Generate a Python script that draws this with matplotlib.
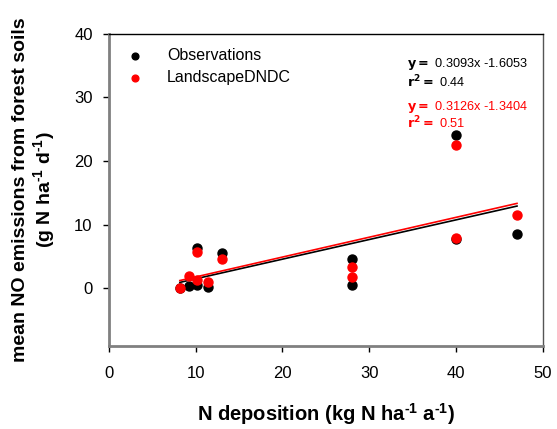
import matplotlib.pyplot as plt

plt.rcParams['font.family'] = ['Liberation Sans', 'DejaVu Sans']
plt.rcParams['mathtext.default'] = 'regular'

# N deposition (kg N ha-1 a-1)
x_obs = [8.2, 9.2, 10.2, 10.2, 11.4, 13.1, 28, 28, 40, 40, 47]
y_obs = [0.05, 0.4, 0.5, 6.3, 0.15, 5.55, 4.65, 0.6, 24.1, 7.7, 8.6]

x_mod = [8.2, 9.2, 10.2, 10.2, 11.4, 13.1, 28, 28, 40, 40, 47]
y_mod = [0.1, 1.9, 1.3, 5.7, 1.0, 4.65, 3.4, 1.8, 22.5, 7.9, 11.6]

# regression (from chart equations)
slope_obs, icpt_obs, r2_obs = 0.3093, -1.6053, 0.44
slope_mod, icpt_mod, r2_mod = 0.3126, -1.3404, 0.51
fit_x = [8.2, 47]

fig = plt.figure(figsize=(5.57, 4.29), dpi=100)
ax = fig.add_axes([0.195, 0.193, 0.780, 0.728])

ax.plot(fit_x, [slope_obs * v + icpt_obs for v in fit_x], color='black', lw=1.2, zorder=2)
ax.plot(fit_x, [slope_mod * v + icpt_mod for v in fit_x], color='red', lw=1.2, zorder=2)

ax.scatter(x_obs, y_obs, s=42, color='black', label='Observations', zorder=3)
ax.scatter(x_mod, y_mod, s=42, color='red', label='LandscapeDNDC', zorder=4)

ax.set_xlim(0, 50)
ax.set_ylim(-9.1, 40)
ax.set_xticks(range(0, 51, 10))
ax.set_yticks(range(0, 41, 10))
ax.tick_params(direction='out', length=4.5, width=1, labelsize=12)
ax.tick_params(axis='x', pad=10)
ax.tick_params(axis='y', pad=7)

for s in ['left', 'bottom']:
    ax.spines[s].set_color('#808080')
    ax.spines[s].set_linewidth(2)
ax.spines['top'].set_color('black')
ax.spines['top'].set_linewidth(1)
ax.spines['right'].set_color('#555555')
ax.spines['right'].set_linewidth(1)

ax.set_xlabel('N deposition (kg N ha$^{\u2010 1}$ a$^{\u2010 1}$)', fontsize=14.5, fontweight='bold', labelpad=14)
ax.set_ylabel('mean NO emissions from forest soils\n(g N ha$^{\u2010 1}$ d$^{\u2010 1}$)', fontsize=14,
              fontweight='bold', labelpad=12, linespacing=1.15)

ax.legend(loc='upper left', bbox_to_anchor=(0.028, 0.975), borderaxespad=0, frameon=False,
          fontsize=11.5, handlelength=1.0, handletextpad=1.5, labelspacing=0.45, markerscale=0.75)

ax.text(0.686, 0.904, r'$\bf{y{=}}$ 0.3093x -1.6053', transform=ax.transAxes, fontsize=9.2,
        color='black', va='center')
ax.text(0.686, 0.846, r'$\bf{r^2{=}}$ 0.44', transform=ax.transAxes, fontsize=9.2,
        color='black', va='center')
ax.text(0.686, 0.766, r'$\bf{y{=}}$ 0.3126x -1.3404', transform=ax.transAxes, fontsize=9.2,
        color='red', va='center')
ax.text(0.686, 0.715, r'$\bf{r^2{=}}$ 0.51', transform=ax.transAxes, fontsize=9.2,
        color='red', va='center')

fig.savefig('out.png', dpi=100)
